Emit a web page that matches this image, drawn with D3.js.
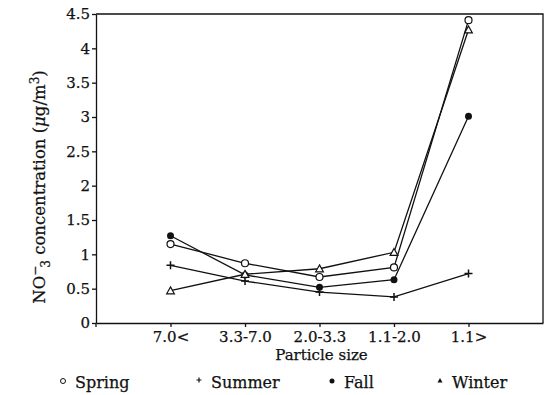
<!DOCTYPE html>
<html>
<head>
<meta charset="utf-8">
<style>
  body { margin: 0; background: #fff; }
  text { font-family: "DejaVu Serif", "Liberation Serif", serif; fill: #111; stroke: #111; stroke-width: 0.25; }
  .axis path, .axis line { stroke: #111; stroke-width: 1.3; }
  .axis text { font-size: 15px; font-family: "DejaVu Serif", serif; }
</style>
<title>NO3 concentration by particle size</title>
</head>
<body>
<script src="https://cdn.jsdelivr.net/npm/d3@7"></script>
<script>
  // data
  var sizes = ["7.0<", "3.3-7.0", "2.0-3.3", "1.1-2.0", "1.1>"];
  var spring = [1.15, 0.87, 0.67, 0.81, 4.41];
  var summer = [0.84, 0.61, 0.45, 0.38, 0.72];
  var fall   = [1.27, 0.70, 0.52, 0.63, 3.01];
  var winter = [0.47, 0.71, 0.79, 1.03, 4.27];
  var yTicks = [0, 0.5, 1, 1.5, 2, 2.5, 3, 3.5, 4, 4.5];

  var width = 549, height = 395;
  var margin = { top: 14, left: 96, bottom: 72, right: 6 };

  var svg = d3.select("body").append("svg")
    .attr("width", width)
    .attr("height", height);

  // categories sit at 0..4, frame runs from -1 to 5
  var x = d3.scaleLinear().domain([-1, 5]).range([margin.left, width - margin.right]);
  var y = d3.scaleLinear().domain([0, 4.5]).range([height - margin.bottom, margin.top]);

  var series = [
    { name: "Spring", values: spring, marker: "circle" },
    { name: "Summer", values: summer, marker: "plus" },
    { name: "Fall", values: fall, marker: "dot" },
    { name: "Winter", values: winter, marker: "triangle" }
  ];

  // frame (top + right)
  svg.append("path")
    .attr("d", "M" + x(-1) + "," + y(4.5) + "H" + x(5) + "V" + y(0))
    .attr("fill", "none").attr("stroke", "#111").attr("stroke-width", 1.3);

  // x axis
  var xAxis = d3.axisBottom(x)
    .tickValues(d3.range(sizes.length))
    .tickFormat(function (i) { return sizes[i]; })
    .tickSizeInner(4).tickSizeOuter(0).tickPadding(4);
  svg.append("g").attr("class", "axis")
    .attr("transform", "translate(0," + y(0) + ")")
    .call(xAxis);

  // y axis
  var yAxis = d3.axisLeft(y)
    .tickValues(yTicks)
    .tickFormat(d3.format("~g"))
    .tickSizeInner(4).tickSizeOuter(0).tickPadding(2);
  var gy = svg.append("g").attr("class", "axis")
    .attr("transform", "translate(" + x(-1) + ",0)")
    .call(yAxis);
  // axis runs a little past zero like the original
  gy.append("line").attr("x1", 0).attr("x2", 0)
    .attr("y1", y(0)).attr("y2", y(0) + 4).attr("stroke", "#111").attr("stroke-width", 1.3);

  // axis titles
  svg.append("text")
    .attr("x", (x(-1) + x(5)) / 2 + 2).attr("y", height - margin.bottom + 37)
    .attr("text-anchor", "middle").style("font-size", "15px")
    .text("Particle size");

  var yl = svg.append("text")
    .attr("transform", "translate(45," + 187 + ") rotate(-90)")
    .attr("text-anchor", "middle").style("font-size", "16.5px");
  yl.append("tspan").text("NO");
  yl.append("tspan").attr("dy", -6).style("font-size", "12px").text("\u2212");
  yl.append("tspan").attr("dx", -2).attr("dy", 11).style("font-size", "12px").text("3");
  yl.append("tspan").attr("dy", -5).text(" concentration (");
  yl.append("tspan").style("font-style", "italic").text("\u03bc");
  yl.append("tspan").text("g/m");
  yl.append("tspan").attr("dy", -6).style("font-size", "12px").text("3");
  yl.append("tspan").attr("dy", 6).text(")");

  // marker drawing
  function drawMarker(g, type, s) {
    if (type === "circle") {
      g.append("circle").attr("r", s).attr("fill", "#fff").attr("stroke", "#111").attr("stroke-width", 1.2);
    } else if (type === "dot") {
      g.append("circle").attr("r", s).attr("fill", "#111");
    } else if (type === "plus") {
      g.append("path").attr("d", "M" + (-s) + ",0H" + s + "M0," + (-s) + "V" + s)
        .attr("stroke", "#111").attr("stroke-width", 1.5);
    } else if (type === "triangle") {
      var h = s * 1.1;
      g.append("path").attr("d", "M0," + (-h) + "L" + h + "," + (h * 0.8) + "L" + (-h) + "," + (h * 0.8) + "Z")
        .attr("fill", "#fff").attr("stroke", "#111").attr("stroke-width", 1.2);
    }
  }

  var line = d3.line()
    .x(function (d, i) { return x(i); })
    .y(function (d) { return y(d); });

  series.forEach(function (s) {
    svg.append("path").datum(s.values)
      .attr("d", line)
      .attr("fill", "none").attr("stroke", "#111").attr("stroke-width", 1.3);
  });
  series.forEach(function (s) {
    s.values.forEach(function (v, i) {
      var g = svg.append("g").attr("transform", "translate(" + x(i) + "," + y(v) + ")");
      drawMarker(g, s.marker, s.marker === "plus" ? 4 : 3.5);
    });
  });

  // legend
  var legendX = [63, 199, 332, 440];
  var legendY = 381;
  series.forEach(function (s, i) {
    var g = svg.append("g").attr("transform", "translate(" + legendX[i] + "," + legendY + ")");
    if (s.marker === "triangle") {
      g.append("path").attr("d", "M0,-3L2.5,1.5L-2.5,1.5Z").attr("fill", "#111");
    } else if (s.marker === "plus") {
      g.append("path").attr("d", "M-2.5,-1H2.5M0,-3.5V1.5").attr("stroke", "#111").attr("stroke-width", 1.2);
    } else if (s.marker === "dot") {
      g.append("circle").attr("r", 2.5).attr("cy", 0).attr("fill", "#111");
    } else {
      g.append("circle").attr("r", 2.5).attr("cy", 0).attr("fill", "#fff").attr("stroke", "#111").attr("stroke-width", 1);
    }
    g.append("text").attr("x", 12).attr("y", 7).style("font-size", "16px").text(s.name);
  });
</script>
</body>
</html>
